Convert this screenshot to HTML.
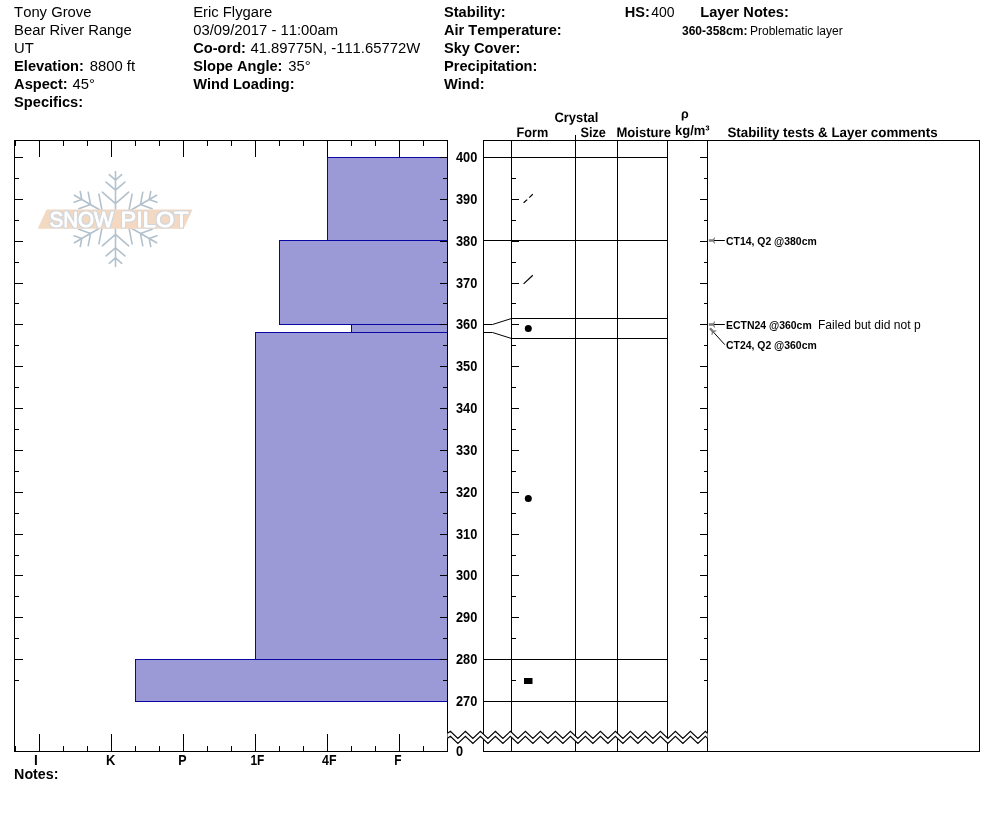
<!DOCTYPE html>
<html lang="en"><head><meta charset="utf-8"><title>Snow Pilot - Tony Grove</title>
<style>html,body{margin:0;padding:0;background:#fff;}body{width:994px;height:840px;overflow:hidden;}svg{display:block;}text{font-family:"Liberation Sans",Arial,Helvetica,sans-serif;fill:#000;font-kerning:none;}</style>
</head><body>
<svg width="994" height="840" viewBox="0 0 994 840">
<rect width="994" height="840" fill="#fff"/>
<text x="14.1" y="16.6" font-size="14.82" >Tony Grove</text>
<text x="14.1" y="34.6" font-size="14.82" >Bear River Range</text>
<text x="14.1" y="52.6" font-size="14.82" >UT</text>
<text x="14.1" y="70.6" font-size="14.62" font-weight="bold">Elevation:</text>
<text x="89.8" y="70.6" font-size="14.82">8800 ft</text>
<text x="14.1" y="88.6" font-size="14.62" font-weight="bold">Aspect:</text>
<text x="72.6" y="88.6" font-size="14.82">45°</text>
<text x="14.1" y="106.6" font-size="14.62" font-weight="bold">Specifics:</text>
<text x="193.2" y="16.6" font-size="14.82" >Eric Flygare</text>
<text x="193.2" y="34.6" font-size="14.82" >03/09/2017 - 11:00am</text>
<text x="193.2" y="52.6" font-size="14.62" font-weight="bold">Co-ord:</text>
<text x="250.5" y="52.6" font-size="14.82">41.89775N, -111.65772W</text>
<text x="193.2" y="70.6" font-size="14.62" font-weight="bold">Slope Angle:</text>
<text x="288.2" y="70.6" font-size="14.82">35°</text>
<text x="193.2" y="88.6" font-size="14.62" font-weight="bold">Wind Loading:</text>
<text x="444.0" y="16.6" font-size="14.62" font-weight="bold">Stability:</text>
<text x="444.0" y="34.6" font-size="14.62" font-weight="bold">Air Temperature:</text>
<text x="444.0" y="52.6" font-size="14.62" font-weight="bold">Sky Cover:</text>
<text x="444.0" y="70.6" font-size="14.62" font-weight="bold">Precipitation:</text>
<text x="444.0" y="88.6" font-size="14.62" font-weight="bold">Wind:</text>
<text x="624.8" y="16.6" font-size="14.62" font-weight="bold">HS:</text>
<text x="651.3" y="16.6" font-size="14.0">400</text>
<text x="700.3" y="16.6" font-size="14.62" font-weight="bold">Layer Notes:</text>
<text x="682" y="34.9" font-size="12" font-weight="bold">360-358cm:</text>
<text x="750" y="34.9" font-size="12">Problematic layer</text>
<rect x="327.5" y="157.5" width="120" height="83" fill="#9b99d6" stroke="#0a05a5" stroke-width="1"/>
<rect x="279.5" y="240.5" width="168" height="84" fill="#9b99d6" stroke="#0a05a5" stroke-width="1"/>
<rect x="351.5" y="324.5" width="96" height="8" fill="#9b99d6" stroke="#0a05a5" stroke-width="1"/>
<rect x="255.5" y="332.5" width="192" height="327" fill="#9b99d6" stroke="#0a05a5" stroke-width="1"/>
<rect x="135.5" y="659.5" width="312" height="42" fill="#9b99d6" stroke="#0a05a5" stroke-width="1"/>
<rect x="14" y="140" width="434" height="1" fill="#000"/>
<rect x="14" y="751" width="434" height="1" fill="#000"/>
<rect x="14" y="140" width="1" height="612" fill="#000"/>
<rect x="447" y="140" width="1" height="612" fill="#000"/>
<rect x="15" y="140" width="1" height="6" fill="#000"/>
<rect x="15" y="746" width="1" height="6" fill="#000"/>
<rect x="39" y="140" width="1" height="17" fill="#000"/>
<rect x="39" y="734" width="1" height="18" fill="#000"/>
<rect x="63" y="140" width="1" height="6" fill="#000"/>
<rect x="63" y="746" width="1" height="6" fill="#000"/>
<rect x="87" y="140" width="1" height="6" fill="#000"/>
<rect x="87" y="746" width="1" height="6" fill="#000"/>
<rect x="111" y="140" width="1" height="17" fill="#000"/>
<rect x="111" y="734" width="1" height="18" fill="#000"/>
<rect x="135" y="140" width="1" height="6" fill="#000"/>
<rect x="135" y="746" width="1" height="6" fill="#000"/>
<rect x="159" y="140" width="1" height="6" fill="#000"/>
<rect x="159" y="746" width="1" height="6" fill="#000"/>
<rect x="183" y="140" width="1" height="17" fill="#000"/>
<rect x="183" y="734" width="1" height="18" fill="#000"/>
<rect x="207" y="140" width="1" height="6" fill="#000"/>
<rect x="207" y="746" width="1" height="6" fill="#000"/>
<rect x="231" y="140" width="1" height="6" fill="#000"/>
<rect x="231" y="746" width="1" height="6" fill="#000"/>
<rect x="255" y="140" width="1" height="17" fill="#000"/>
<rect x="255" y="734" width="1" height="18" fill="#000"/>
<rect x="279" y="140" width="1" height="6" fill="#000"/>
<rect x="279" y="746" width="1" height="6" fill="#000"/>
<rect x="303" y="140" width="1" height="6" fill="#000"/>
<rect x="303" y="746" width="1" height="6" fill="#000"/>
<rect x="327" y="140" width="1" height="17" fill="#000"/>
<rect x="327" y="734" width="1" height="18" fill="#000"/>
<rect x="351" y="140" width="1" height="6" fill="#000"/>
<rect x="351" y="746" width="1" height="6" fill="#000"/>
<rect x="375" y="140" width="1" height="6" fill="#000"/>
<rect x="375" y="746" width="1" height="6" fill="#000"/>
<rect x="399" y="140" width="1" height="17" fill="#000"/>
<rect x="399" y="734" width="1" height="18" fill="#000"/>
<rect x="423" y="140" width="1" height="6" fill="#000"/>
<rect x="423" y="746" width="1" height="6" fill="#000"/>
<rect x="447" y="140" width="1" height="6" fill="#000"/>
<rect x="447" y="746" width="1" height="6" fill="#000"/>
<rect x="14" y="157" width="9" height="1" fill="#000"/>
<rect x="440" y="157" width="8" height="1" fill="#000"/>
<rect x="14" y="178" width="5" height="1" fill="#000"/>
<rect x="443" y="178" width="5" height="1" fill="#000"/>
<rect x="14" y="199" width="9" height="1" fill="#000"/>
<rect x="440" y="199" width="8" height="1" fill="#000"/>
<rect x="14" y="220" width="5" height="1" fill="#000"/>
<rect x="443" y="220" width="5" height="1" fill="#000"/>
<rect x="14" y="241" width="9" height="1" fill="#000"/>
<rect x="440" y="241" width="8" height="1" fill="#000"/>
<rect x="14" y="262" width="5" height="1" fill="#000"/>
<rect x="443" y="262" width="5" height="1" fill="#000"/>
<rect x="14" y="283" width="9" height="1" fill="#000"/>
<rect x="440" y="283" width="8" height="1" fill="#000"/>
<rect x="14" y="303" width="5" height="1" fill="#000"/>
<rect x="443" y="303" width="5" height="1" fill="#000"/>
<rect x="14" y="324" width="9" height="1" fill="#000"/>
<rect x="440" y="324" width="8" height="1" fill="#000"/>
<rect x="14" y="345" width="5" height="1" fill="#000"/>
<rect x="443" y="345" width="5" height="1" fill="#000"/>
<rect x="14" y="366" width="9" height="1" fill="#000"/>
<rect x="440" y="366" width="8" height="1" fill="#000"/>
<rect x="14" y="387" width="5" height="1" fill="#000"/>
<rect x="443" y="387" width="5" height="1" fill="#000"/>
<rect x="14" y="408" width="9" height="1" fill="#000"/>
<rect x="440" y="408" width="8" height="1" fill="#000"/>
<rect x="14" y="429" width="5" height="1" fill="#000"/>
<rect x="443" y="429" width="5" height="1" fill="#000"/>
<rect x="14" y="450" width="9" height="1" fill="#000"/>
<rect x="440" y="450" width="8" height="1" fill="#000"/>
<rect x="14" y="471" width="5" height="1" fill="#000"/>
<rect x="443" y="471" width="5" height="1" fill="#000"/>
<rect x="14" y="492" width="9" height="1" fill="#000"/>
<rect x="440" y="492" width="8" height="1" fill="#000"/>
<rect x="14" y="513" width="5" height="1" fill="#000"/>
<rect x="443" y="513" width="5" height="1" fill="#000"/>
<rect x="14" y="534" width="9" height="1" fill="#000"/>
<rect x="440" y="534" width="8" height="1" fill="#000"/>
<rect x="14" y="555" width="5" height="1" fill="#000"/>
<rect x="443" y="555" width="5" height="1" fill="#000"/>
<rect x="14" y="575" width="9" height="1" fill="#000"/>
<rect x="440" y="575" width="8" height="1" fill="#000"/>
<rect x="14" y="596" width="5" height="1" fill="#000"/>
<rect x="443" y="596" width="5" height="1" fill="#000"/>
<rect x="14" y="617" width="9" height="1" fill="#000"/>
<rect x="440" y="617" width="8" height="1" fill="#000"/>
<rect x="14" y="638" width="5" height="1" fill="#000"/>
<rect x="443" y="638" width="5" height="1" fill="#000"/>
<rect x="14" y="659" width="9" height="1" fill="#000"/>
<rect x="440" y="659" width="8" height="1" fill="#000"/>
<rect x="14" y="680" width="5" height="1" fill="#000"/>
<rect x="443" y="680" width="5" height="1" fill="#000"/>
<text x="34" y="765" font-size="14" font-weight="bold" textLength="3.8" lengthAdjust="spacingAndGlyphs" >I</text>
<text x="106" y="765" font-size="14" font-weight="bold" textLength="9.35" lengthAdjust="spacingAndGlyphs" >K</text>
<text x="178.2" y="765" font-size="14" font-weight="bold" textLength="8.3" lengthAdjust="spacingAndGlyphs" >P</text>
<text x="250.4" y="765" font-size="14" font-weight="bold" textLength="13.9" lengthAdjust="spacingAndGlyphs" >1F</text>
<text x="322" y="765" font-size="14" font-weight="bold" textLength="14.5" lengthAdjust="spacingAndGlyphs" >4F</text>
<text x="394.3" y="765" font-size="14" font-weight="bold" textLength="7.3" lengthAdjust="spacingAndGlyphs" >F</text>
<text x="14.1" y="779" font-size="14.62" font-weight="bold" textLength="44.4" lengthAdjust="spacingAndGlyphs" >Notes:</text>
<text x="456" y="162" font-size="14" font-weight="bold" textLength="21.3" lengthAdjust="spacingAndGlyphs" >400</text>
<text x="456" y="204" font-size="14" font-weight="bold" textLength="21.3" lengthAdjust="spacingAndGlyphs" >390</text>
<text x="456" y="246" font-size="14" font-weight="bold" textLength="21.3" lengthAdjust="spacingAndGlyphs" >380</text>
<text x="456" y="288" font-size="14" font-weight="bold" textLength="21.3" lengthAdjust="spacingAndGlyphs" >370</text>
<text x="456" y="329" font-size="14" font-weight="bold" textLength="21.3" lengthAdjust="spacingAndGlyphs" >360</text>
<text x="456" y="371" font-size="14" font-weight="bold" textLength="21.3" lengthAdjust="spacingAndGlyphs" >350</text>
<text x="456" y="413" font-size="14" font-weight="bold" textLength="21.3" lengthAdjust="spacingAndGlyphs" >340</text>
<text x="456" y="455" font-size="14" font-weight="bold" textLength="21.3" lengthAdjust="spacingAndGlyphs" >330</text>
<text x="456" y="497" font-size="14" font-weight="bold" textLength="21.3" lengthAdjust="spacingAndGlyphs" >320</text>
<text x="456" y="539" font-size="14" font-weight="bold" textLength="21.3" lengthAdjust="spacingAndGlyphs" >310</text>
<text x="456" y="580" font-size="14" font-weight="bold" textLength="21.3" lengthAdjust="spacingAndGlyphs" >300</text>
<text x="456" y="622" font-size="14" font-weight="bold" textLength="21.3" lengthAdjust="spacingAndGlyphs" >290</text>
<text x="456" y="664" font-size="14" font-weight="bold" textLength="21.3" lengthAdjust="spacingAndGlyphs" >280</text>
<text x="456" y="706" font-size="14" font-weight="bold" textLength="21.3" lengthAdjust="spacingAndGlyphs" >270</text>
<text x="456" y="756" font-size="14" font-weight="bold" textLength="7.1" lengthAdjust="spacingAndGlyphs" >0</text>
<rect x="483" y="140" width="497" height="1" fill="#000"/>
<rect x="483" y="751" width="497" height="1" fill="#000"/>
<rect x="483" y="140" width="1" height="612" fill="#000"/>
<rect x="511" y="140" width="1" height="612" fill="#000"/>
<rect x="575" y="140" width="1" height="612" fill="#000"/>
<rect x="617" y="140" width="1" height="612" fill="#000"/>
<rect x="667" y="140" width="1" height="612" fill="#000"/>
<rect x="707" y="140" width="1" height="612" fill="#000"/>
<rect x="979" y="140" width="1" height="612" fill="#000"/>
<rect x="575" y="135" width="1" height="6" fill="#000"/>
<rect x="483" y="157" width="185" height="1" fill="#000"/>
<rect x="483" y="240" width="185" height="1" fill="#000"/>
<rect x="483" y="659" width="185" height="1" fill="#000"/>
<rect x="483" y="701" width="185" height="1" fill="#000"/>
<rect x="511" y="318" width="157" height="1" fill="#000"/>
<rect x="511" y="338" width="157" height="1" fill="#000"/>
<path d="M483.5 324.5H492.5L511.5 318.5M483.5 332.5H492.5L511.5 338.5" fill="none" stroke="#000" stroke-width="1"/>
<rect x="512" y="157" width="7" height="1" fill="#000"/>
<rect x="700" y="157" width="7" height="1" fill="#000"/>
<rect x="512" y="178" width="4" height="1" fill="#000"/>
<rect x="704" y="178" width="3" height="1" fill="#000"/>
<rect x="512" y="199" width="7" height="1" fill="#000"/>
<rect x="700" y="199" width="7" height="1" fill="#000"/>
<rect x="512" y="220" width="4" height="1" fill="#000"/>
<rect x="704" y="220" width="3" height="1" fill="#000"/>
<rect x="512" y="241" width="7" height="1" fill="#000"/>
<rect x="700" y="241" width="7" height="1" fill="#000"/>
<rect x="512" y="262" width="4" height="1" fill="#000"/>
<rect x="704" y="262" width="3" height="1" fill="#000"/>
<rect x="512" y="283" width="7" height="1" fill="#000"/>
<rect x="700" y="283" width="7" height="1" fill="#000"/>
<rect x="512" y="303" width="4" height="1" fill="#000"/>
<rect x="704" y="303" width="3" height="1" fill="#000"/>
<rect x="512" y="324" width="7" height="1" fill="#000"/>
<rect x="700" y="324" width="7" height="1" fill="#000"/>
<rect x="512" y="345" width="4" height="1" fill="#000"/>
<rect x="704" y="345" width="3" height="1" fill="#000"/>
<rect x="512" y="366" width="7" height="1" fill="#000"/>
<rect x="700" y="366" width="7" height="1" fill="#000"/>
<rect x="512" y="387" width="4" height="1" fill="#000"/>
<rect x="704" y="387" width="3" height="1" fill="#000"/>
<rect x="512" y="408" width="7" height="1" fill="#000"/>
<rect x="700" y="408" width="7" height="1" fill="#000"/>
<rect x="512" y="429" width="4" height="1" fill="#000"/>
<rect x="704" y="429" width="3" height="1" fill="#000"/>
<rect x="512" y="450" width="7" height="1" fill="#000"/>
<rect x="700" y="450" width="7" height="1" fill="#000"/>
<rect x="512" y="471" width="4" height="1" fill="#000"/>
<rect x="704" y="471" width="3" height="1" fill="#000"/>
<rect x="512" y="492" width="7" height="1" fill="#000"/>
<rect x="700" y="492" width="7" height="1" fill="#000"/>
<rect x="512" y="513" width="4" height="1" fill="#000"/>
<rect x="704" y="513" width="3" height="1" fill="#000"/>
<rect x="512" y="534" width="7" height="1" fill="#000"/>
<rect x="700" y="534" width="7" height="1" fill="#000"/>
<rect x="512" y="555" width="4" height="1" fill="#000"/>
<rect x="704" y="555" width="3" height="1" fill="#000"/>
<rect x="512" y="575" width="7" height="1" fill="#000"/>
<rect x="700" y="575" width="7" height="1" fill="#000"/>
<rect x="512" y="596" width="4" height="1" fill="#000"/>
<rect x="704" y="596" width="3" height="1" fill="#000"/>
<rect x="512" y="617" width="7" height="1" fill="#000"/>
<rect x="700" y="617" width="7" height="1" fill="#000"/>
<rect x="512" y="638" width="4" height="1" fill="#000"/>
<rect x="704" y="638" width="3" height="1" fill="#000"/>
<rect x="512" y="659" width="7" height="1" fill="#000"/>
<rect x="700" y="659" width="7" height="1" fill="#000"/>
<rect x="512" y="680" width="4" height="1" fill="#000"/>
<rect x="704" y="680" width="3" height="1" fill="#000"/>
<polygon points="447.5,733.3 450.4,731.3 457.9,738.5 465.4,731.3 472.9,738.5 480.4,731.3 487.9,738.5 495.4,731.3 502.9,738.5 510.4,731.3 517.9,738.5 525.4,731.3 532.9,738.5 540.4,731.3 547.9,738.5 555.4,731.3 562.9,738.5 570.4,731.3 577.9,738.5 585.4,731.3 592.9,738.5 600.4,731.3 607.9,738.5 615.4,731.3 622.9,738.5 630.4,731.3 637.9,738.5 645.4,731.3 652.9,738.5 660.4,731.3 667.9,738.5 675.4,731.3 682.9,738.5 690.4,731.3 697.9,738.5 705.4,731.3 707.5,733.3 707.5,738.3 705.4,736.3 697.9,743.5 690.4,736.3 682.9,743.5 675.4,736.3 667.9,743.5 660.4,736.3 652.9,743.5 645.4,736.3 637.9,743.5 630.4,736.3 622.9,743.5 615.4,736.3 607.9,743.5 600.4,736.3 592.9,743.5 585.4,736.3 577.9,743.5 570.4,736.3 562.9,743.5 555.4,736.3 547.9,743.5 540.4,736.3 532.9,743.5 525.4,736.3 517.9,743.5 510.4,736.3 502.9,743.5 495.4,736.3 487.9,743.5 480.4,736.3 472.9,743.5 465.4,736.3 457.9,743.5 450.4,736.3 447.5,738.3" fill="#fff"/>
<polyline points="447.5,733.3 450.4,731.3 457.9,738.5 465.4,731.3 472.9,738.5 480.4,731.3 487.9,738.5 495.4,731.3 502.9,738.5 510.4,731.3 517.9,738.5 525.4,731.3 532.9,738.5 540.4,731.3 547.9,738.5 555.4,731.3 562.9,738.5 570.4,731.3 577.9,738.5 585.4,731.3 592.9,738.5 600.4,731.3 607.9,738.5 615.4,731.3 622.9,738.5 630.4,731.3 637.9,738.5 645.4,731.3 652.9,738.5 660.4,731.3 667.9,738.5 675.4,731.3 682.9,738.5 690.4,731.3 697.9,738.5 705.4,731.3 707.5,733.3" fill="none" stroke="#000" stroke-width="1.1"/>
<polyline points="447.5,738.3 450.4,736.3 457.9,743.5 465.4,736.3 472.9,743.5 480.4,736.3 487.9,743.5 495.4,736.3 502.9,743.5 510.4,736.3 517.9,743.5 525.4,736.3 532.9,743.5 540.4,736.3 547.9,743.5 555.4,736.3 562.9,743.5 570.4,736.3 577.9,743.5 585.4,736.3 592.9,743.5 600.4,736.3 607.9,743.5 615.4,736.3 622.9,743.5 630.4,736.3 637.9,743.5 645.4,736.3 652.9,743.5 660.4,736.3 667.9,743.5 675.4,736.3 682.9,743.5 690.4,736.3 697.9,743.5 705.4,736.3 707.5,738.3" fill="none" stroke="#000" stroke-width="1.1"/>
<text x="554.4" y="122" font-size="13.7" font-weight="bold" textLength="43.9" lengthAdjust="spacingAndGlyphs" style="text-rendering:geometricPrecision">Crystal</text>
<text x="516.6" y="137" font-size="13.7" font-weight="bold" textLength="31.7" lengthAdjust="spacingAndGlyphs" style="text-rendering:geometricPrecision">Form</text>
<text x="580.4" y="137" font-size="13.7" font-weight="bold" textLength="25.5" lengthAdjust="spacingAndGlyphs" style="text-rendering:geometricPrecision">Size</text>
<text x="616.5" y="137" font-size="13.7" font-weight="bold" textLength="54.4" lengthAdjust="spacingAndGlyphs" style="text-rendering:geometricPrecision">Moisture</text>
<text x="681.1" y="117.8" font-size="12.4" font-weight="bold" style="text-rendering:geometricPrecision">ρ</text>
<text x="675" y="135" font-size="13.7" font-weight="bold" textLength="34.6" lengthAdjust="spacingAndGlyphs" style="text-rendering:geometricPrecision">kg/m³</text>
<text x="727.4" y="137" font-size="13.7" font-weight="bold" textLength="210.3" lengthAdjust="spacingAndGlyphs" style="text-rendering:geometricPrecision">Stability tests &amp; Layer comments</text>
<path d="M523.6 202.8L527.2 199.6M529.2 197.6L532.8 194.2" stroke="#000" stroke-width="1.2" fill="none"/>
<path d="M523.6 283.9L532.8 275.2" stroke="#000" stroke-width="1.2" fill="none"/>
<circle cx="528.3" cy="328.4" r="3.5" fill="#000"/>
<circle cx="528.3" cy="498.5" r="3.5" fill="#000"/>
<rect x="524" y="678" width="8.5" height="6" fill="#000"/>
<path d="M724.8 240.5L713.8 240.5" stroke="#000" stroke-width="1" fill="none"/>
<polygon points="708.8,239.3 713.0,239.3 714.4,237.2 715.2,237.7 714.0,240.5 715.2,243.3 714.4,243.8 713.0,241.7 708.8,241.7" fill="#7c7c7c"/>
<text x="726" y="244.6" font-size="10.67" font-weight="bold" textLength="90.7" lengthAdjust="spacingAndGlyphs" >CT14, Q2 @380cm</text>
<path d="M724.8 324.5L713.8 324.5" stroke="#000" stroke-width="1" fill="none"/>
<polygon points="708.8,323.3 713.0,323.3 714.4,321.2 715.2,321.7 714.0,324.5 715.2,327.3 714.4,327.8 713.0,325.7 708.8,325.7" fill="#7c7c7c"/>
<text x="726" y="329" font-size="10.67" font-weight="bold" textLength="85.7" lengthAdjust="spacingAndGlyphs" >ECTN24 @360cm</text>
<text x="818" y="329" font-size="12" textLength="102.6" lengthAdjust="spacingAndGlyphs" >Failed but did not p</text>
<path d="M724.8 344.7L713.3 332.0" stroke="#000" stroke-width="1" fill="none"/>
<polygon points="710.9,327.5 713.7,330.6 716.2,330.2 716.4,331.2 713.5,332.2 712.2,334.9 711.3,334.7 711.9,332.2 709.1,329.1" fill="#7c7c7c"/>
<text x="726" y="349" font-size="10.67" font-weight="bold" textLength="90.7" lengthAdjust="spacingAndGlyphs" >CT24, Q2 @360cm</text>
<g id="logo">
<g transform="translate(115.5 219)" stroke="#b3c1cc" stroke-width="1.6" fill="none" stroke-linecap="round" stroke-linejoin="round">
<path transform="rotate(0)" d="M0 0V-47.5M-13.2 -26.8L0 -15.3L13.2 -26.8M-9.4 -36.9L0 -28.8L9.4 -36.9M-6.2 -44.3L0 -38.9L6.2 -44.3"/>
<path transform="rotate(60)" d="M0 0V-47.5M-13.2 -26.8L0 -15.3L13.2 -26.8M-9.4 -36.9L0 -28.8L9.4 -36.9M-6.2 -44.3L0 -38.9L6.2 -44.3"/>
<path transform="rotate(120)" d="M0 0V-47.5M-13.2 -26.8L0 -15.3L13.2 -26.8M-9.4 -36.9L0 -28.8L9.4 -36.9M-6.2 -44.3L0 -38.9L6.2 -44.3"/>
<path transform="rotate(180)" d="M0 0V-47.5M-13.2 -26.8L0 -15.3L13.2 -26.8M-9.4 -36.9L0 -28.8L9.4 -36.9M-6.2 -44.3L0 -38.9L6.2 -44.3"/>
<path transform="rotate(240)" d="M0 0V-47.5M-13.2 -26.8L0 -15.3L13.2 -26.8M-9.4 -36.9L0 -28.8L9.4 -36.9M-6.2 -44.3L0 -38.9L6.2 -44.3"/>
<path transform="rotate(300)" d="M0 0V-47.5M-13.2 -26.8L0 -15.3L13.2 -26.8M-9.4 -36.9L0 -28.8L9.4 -36.9M-6.2 -44.3L0 -38.9L6.2 -44.3"/>
</g>
<polygon points="46.6,209.6 192.5,209.6 183.6,228.8 37.7,228.8" fill="#f3d8c2"/>
<filter id="ol" x="-5%" y="-25%" width="110%" height="150%"><feMorphology in="SourceAlpha" operator="dilate" radius="0.65" result="d"/><feFlood flood-color="#d0d7de"/><feComposite in2="d" operator="in" result="o"/><feMerge><feMergeNode in="o"/><feMergeNode in="SourceGraphic"/></feMerge></filter>
<g filter="url(#ol)">
<text x="49.4" y="227.3" textLength="64.2" font-size="22.4" lengthAdjust="spacingAndGlyphs" style="fill:#fff;stroke:#fff;stroke-width:0.8;stroke-linejoin:round">SNOW</text>
<text x="120.6" y="227.3" textLength="68" font-size="22.4" lengthAdjust="spacingAndGlyphs" style="fill:#fff;stroke:#fff;stroke-width:0.8;stroke-linejoin:round">PILOT</text>
</g>
</g>
</svg>
</body></html>
